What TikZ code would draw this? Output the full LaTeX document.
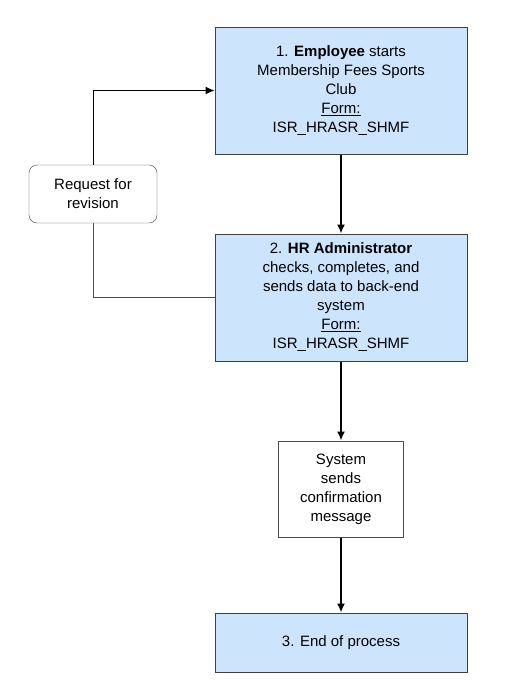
\documentclass[tikz,border=0pt]{standalone}
\usepackage{fontspec}
\setmainfont{Liberation Sans}
\usetikzlibrary{arrows.meta}
\definecolor{stepblue}{RGB}{204,228,252}

\begin{document}
\begin{tikzpicture}[x=1pt,y=-1pt,
	font=\fontsize{15}{19}\selectfont,
	step_node/.style={rectangle,draw=black!75,line width=1pt,fill=stepblue,minimum width=252pt,align=center,inner sep=2pt},
	sys_node/.style={rectangle,draw=black!70,line width=1pt,fill=white,minimum width=125pt,minimum height=96pt,align=center,inner sep=2pt},
	rev_node/.style={rectangle,rounded corners=8pt,draw=black!75,fill=white,minimum width=128pt,minimum height=58pt,align=center,inner sep=2pt},
	flow/.style={draw,line width=1.6pt,-{Latex[length=9pt,width=8pt]}}]
	\useasboundingbox (0,0) rectangle (506,694);

	\node[step_node,minimum height=127pt] (1) at (341,90.5){1. \textbf{Employee} starts\\Membership Fees Sports\\Club\\\underline{Form:}\\ISR\_HRASR\_SHMF};
	\node[step_node,minimum height=127pt] (2) at (341,297.5){2. \textbf{HR Administrator}\\checks, completes, and\\sends data to back-end\\system\\\underline{Form:}\\ISR\_HRASR\_SHMF};
	\node[sys_node] (3) at (341,489){System\\sends\\confirmation\\message};
	\node[step_node,minimum height=59pt] (4) at (341,642.5){3. End of process};
	\node[rev_node] (r) at (93,194){Request for\\revision};

	\path[flow]
	(1) edge node {} (2)
	(2) edge node {} (3)
	(3) edge node {} (4)
	;
	\draw[line width=1pt,-{Latex[length=9pt,width=8pt]}] (r.north) |- (1.west);
	\draw[line width=1pt,black!70] (r.south) |- (2.west);
\end{tikzpicture}
\end{document}
